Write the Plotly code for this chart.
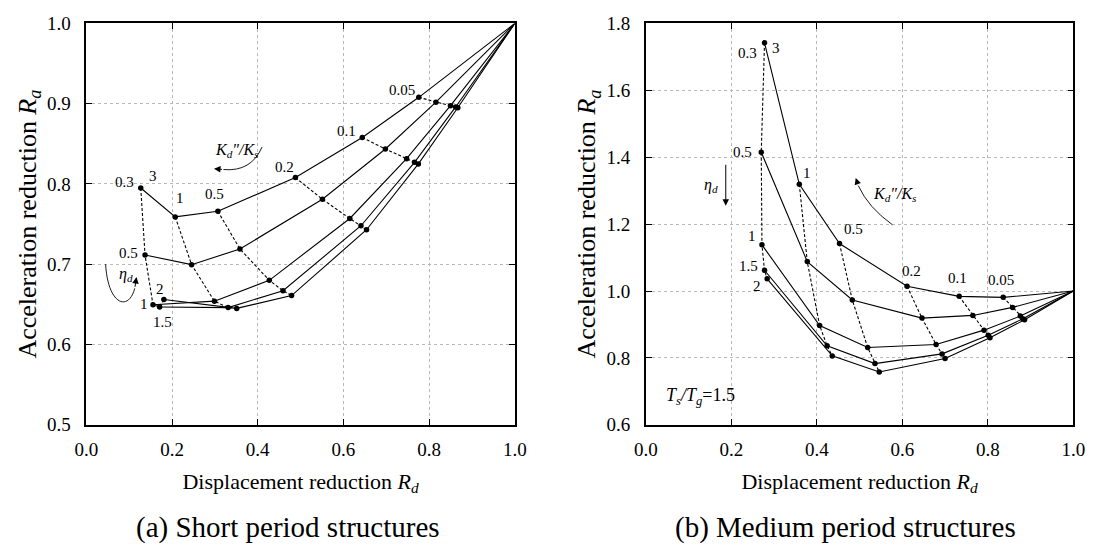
import plotly.graph_objects as go

# Stiffness ratios K_d''/K_s marked along every curve (the curve then runs on to the uncontrolled point 1,1)
K_RATIOS = [3, 1, 0.5, 0.2, 0.1, 0.05]
K_LABELS = ["3", "1", "0.5", "0.2", "0.1", "0.05"]
# Damping ratios eta_d, one solid curve each
ETA_D = [0.3, 0.5, 1, 1.5, 2]
ETA_LABELS = ["0.3", "0.5", "1", "1.5", "2"]

# (a) Short period structures: rows follow ETA_D, columns follow K_RATIOS
short_rd = [
    [0.127, 0.2075, 0.307, 0.488, 0.644, 0.776],
    [0.137, 0.2456, 0.3585, 0.551, 0.698, 0.816],
    [0.1556, 0.299, 0.427, 0.615, 0.7475, 0.850],
    [0.171, 0.331, 0.459, 0.641, 0.766, 0.862],
    [0.181, 0.351, 0.479, 0.654, 0.775, 0.867],
]
short_ra = [
    [0.795, 0.759, 0.766, 0.808, 0.858, 0.908],
    [0.7115, 0.6995, 0.719, 0.781, 0.8436, 0.902],
    [0.6495, 0.654, 0.680, 0.757, 0.8316, 0.8976],
    [0.6467, 0.646, 0.667, 0.748, 0.827, 0.896],
    [0.656, 0.645, 0.661, 0.743, 0.825, 0.895],
]

# (b) Medium period structures
medium_rd = [
    [0.2776, 0.359, 0.453, 0.611, 0.733, 0.836],
    [0.270, 0.3776, 0.483, 0.646, 0.765, 0.858],
    [0.2716, 0.4066, 0.519, 0.679, 0.791, 0.876],
    [0.2776, 0.424, 0.536, 0.693, 0.801, 0.882],
    [0.2838, 0.436, 0.546, 0.700, 0.805, 0.886],
]
medium_ra = [
    [1.742, 1.319, 1.142, 1.014, 0.984, 0.981],
    [1.415, 1.088, 0.973, 0.919, 0.927, 0.951],
    [1.138, 0.897, 0.831, 0.840, 0.883, 0.925],
    [1.062, 0.836, 0.783, 0.812, 0.868, 0.917],
    [1.0366, 0.806, 0.758, 0.798, 0.860, 0.914],
]

# Uncontrolled structure: no reduction
END_RD = 1.0
END_RA = 1.0

X_TICKS = [0.0, 0.2, 0.4, 0.6, 0.8, 1.0]
SHORT_Y_TICKS = [0.5, 0.6, 0.7, 0.8, 0.9, 1.0]
MEDIUM_Y_TICKS = [0.6, 0.8, 1.0, 1.2, 1.4, 1.6, 1.8]

FONT = "Liberation Serif, Times New Roman, serif"
W, H = 1099, 558
PLOT_TOP, PLOT_BOTTOM = 14, 431
LEFT_X = (76, 514)
RIGHT_X = (648, 1085)

fig = go.Figure()


def add_panel(rd, ra, xa, ya):
    # solid curves: constant damping, stiffness decreasing towards (1, 1)
    for i in range(len(ETA_D)):
        fig.add_trace(go.Scatter(
            x=rd[i] + [END_RD], y=ra[i] + [END_RA], mode="lines",
            line=dict(color="black", width=1.1), xaxis=xa, yaxis=ya,
            showlegend=False, hoverinfo="skip"))
    # dashed curves: constant stiffness ratio across damping
    for j in range(len(K_RATIOS)):
        fig.add_trace(go.Scatter(
            x=[rd[i][j] for i in range(len(ETA_D))],
            y=[ra[i][j] for i in range(len(ETA_D))], mode="lines",
            line=dict(color="black", width=1.1, dash="3px,2px"), xaxis=xa, yaxis=ya,
            showlegend=False, hoverinfo="skip"))
    # computed points
    fig.add_trace(go.Scatter(
        x=[v for row in rd for v in row], y=[v for row in ra for v in row],
        mode="markers", marker=dict(color="black", size=5.5),
        xaxis=xa, yaxis=ya, showlegend=False, hoverinfo="skip"))


add_panel(short_rd, short_ra, "x", "y")
add_panel(medium_rd, medium_ra, "x2", "y2")


def label(text, rd, ra, i, j, dx, dy, xa, ya, size=15):
    fig.add_annotation(x=rd[i][j], y=ra[i][j], xref=xa, yref=ya, text=text,
                       showarrow=False, xshift=dx, yshift=dy,
                       font=dict(family=FONT, size=size, color="black"))


# point labels, short period panel
label(ETA_LABELS[0], short_rd, short_ra, 0, 0, -16, 6, "x", "y")
label(K_LABELS[0], short_rd, short_ra, 0, 0, 12, 12, "x", "y")
label(K_LABELS[1], short_rd, short_ra, 0, 1, 5, 19, "x", "y")
label(K_LABELS[2], short_rd, short_ra, 0, 2, -3, 17, "x", "y")
label(K_LABELS[3], short_rd, short_ra, 0, 3, -11, 11, "x", "y")
label(K_LABELS[4], short_rd, short_ra, 0, 4, -16, 6, "x", "y")
label(K_LABELS[5], short_rd, short_ra, 0, 5, -17, 7, "x", "y")
label(ETA_LABELS[1], short_rd, short_ra, 1, 0, -17, 2, "x", "y")
label(ETA_LABELS[2], short_rd, short_ra, 2, 0, -9, 1, "x", "y")
label(ETA_LABELS[3], short_rd, short_ra, 3, 0, 3, -15, "x", "y")
label(ETA_LABELS[4], short_rd, short_ra, 4, 0, -4, 11, "x", "y")

# point labels, medium period panel
label(ETA_LABELS[0], medium_rd, medium_ra, 0, 0, -17, -10, "x2", "y2")
label(K_LABELS[0], medium_rd, medium_ra, 0, 0, 11, -5, "x2", "y2")
label(ETA_LABELS[1], medium_rd, medium_ra, 1, 0, -19, 0, "x2", "y2")
label(ETA_LABELS[2], medium_rd, medium_ra, 2, 0, -10, 9, "x2", "y2")
label(ETA_LABELS[3], medium_rd, medium_ra, 3, 0, -16, 4, "x2", "y2")
label(ETA_LABELS[4], medium_rd, medium_ra, 4, 0, -10, -7, "x2", "y2")
label(K_LABELS[1], medium_rd, medium_ra, 0, 1, 8, 11, "x2", "y2")
label(K_LABELS[2], medium_rd, medium_ra, 0, 2, 14, 15, "x2", "y2")
label(K_LABELS[3], medium_rd, medium_ra, 0, 3, 4, 15, "x2", "y2")
label(K_LABELS[4], medium_rd, medium_ra, 0, 4, -2, 18, "x2", "y2")
label(K_LABELS[5], medium_rd, medium_ra, 0, 5, -2, 17, "x2", "y2")

ETA_TEXT = "<i>η<sub>d</sub></i>"
K_TEXT = "<i>K</i><sub><i>d</i></sub><i>″/K</i><sub><i>s</i></sub>"


def note(text, x, y, xa, ya, size=15, xanchor="center"):
    fig.add_annotation(x=x, y=y, xref=xa, yref=ya, text=text, showarrow=False,
                       xanchor=xanchor, font=dict(family=FONT, size=size, color="black"))


def arrow_head(x, y, x0, y0, xa, ya):
    fig.add_annotation(x=x, y=y, ax=x0, ay=y0, xref=xa, yref=ya, axref=xa, ayref=ya,
                       text="", showarrow=True, arrowhead=2, arrowsize=1.3,
                       arrowwidth=1, arrowcolor="black")


# short panel: damping and stiffness direction hints
note(ETA_TEXT, 0.092, 0.687, "x", "y", size=16)
fig.add_shape(type="path", xref="x", yref="y",
              path="M 0.045,0.700 C 0.050,0.650 0.098,0.640 0.113,0.670",
              line=dict(color="black", width=0.9))
arrow_head(0.117, 0.684, 0.113, 0.670, "x", "y")
note(K_TEXT, 0.352, 0.842, "x", "y", size=16)
fig.add_shape(type="path", xref="x", yref="y",
              path="M 0.41,0.846 Q 0.385,0.815 0.32,0.818",
              line=dict(color="black", width=0.9))
arrow_head(0.298, 0.819, 0.32, 0.818, "x", "y")

# medium panel: damping and stiffness direction hints
note(ETA_TEXT, 0.153, 1.317, "x2", "y2", size=16)
arrow_head(0.187, 1.255, 0.187, 1.382, "x2", "y2")
note(K_TEXT, 0.584, 1.289, "x2", "y2", size=16)
fig.add_shape(type="path", xref="x2", yref="y2",
              path="M 0.577,1.198 Q 0.52,1.25 0.497,1.315",
              line=dict(color="black", width=0.9))
arrow_head(0.491, 1.338, 0.497, 1.315, "x2", "y2")
note("<i>T<sub>s</sub>/T<sub>g</sub></i>=1.5", 0.043, 0.684, "x2", "y2", size=18, xanchor="left")


def axis_style(ticks, fmt, rng, domain, title, anchor, title_size, standoff, label_gap):
    return dict(
        range=rng, domain=domain, anchor=anchor, tickmode="array", tickvals=ticks,
        tickformat=fmt, ticks="inside", ticklen=6, tickwidth=1.2, tickcolor="black",
        ticklabelstandoff=label_gap,
        showline=True, linecolor="black", linewidth=1.5, mirror="ticks",
        showgrid=True, gridcolor="#b8b8b8", gridwidth=1, griddash="dot",
        zeroline=False, tickfont=dict(family=FONT, size=19, color="black"),
        title=dict(text=title, font=dict(family=FONT, size=title_size, color="black"),
                   standoff=standoff),
    )


xdom_l = [LEFT_X[0] / W, LEFT_X[1] / W]
xdom_r = [RIGHT_X[0] / W, RIGHT_X[1] / W]
ydom = [1 - PLOT_BOTTOM / H, 1 - PLOT_TOP / H]
X_TITLE = "Displacement reduction <i>R<sub>d</sub></i>"
Y_TITLE = "Acceleration reduction <i>R<sub>a</sub></i>"

fig.update_layout(
    width=W, height=H, margin=dict(l=0, r=0, t=0, b=0),
    paper_bgcolor="white", plot_bgcolor="white",
    font=dict(family=FONT, color="black"),
    xaxis=axis_style(X_TICKS, ".1f", [0, 1], xdom_l, X_TITLE, "y", 22, 14, 7),
    yaxis=axis_style(SHORT_Y_TICKS, ".1f", [0.5, 1.0], ydom, Y_TITLE, "x", 26, 3, 10),
    xaxis2=axis_style(X_TICKS, ".1f", [0, 1], xdom_r, X_TITLE, "y2", 22, 14, 7),
    yaxis2=axis_style(MEDIUM_Y_TICKS, ".1f", [0.6, 1.8], ydom, Y_TITLE, "x2", 26, 3, 10),
)

# panel captions
fig.add_annotation(x=282 / W, y=1 - 538 / H, xref="paper", yref="paper",
                   xanchor="center", yanchor="middle",
                   text="(a) Short period structures", showarrow=False,
                   font=dict(family=FONT, size=29, color="black"))
fig.add_annotation(x=852 / W, y=1 - 538 / H, xref="paper", yref="paper",
                   xanchor="center", yanchor="middle",
                   text="(b) Medium period structures", showarrow=False,
                   font=dict(family=FONT, size=29, color="black"))

fig.write_html("out.html")
